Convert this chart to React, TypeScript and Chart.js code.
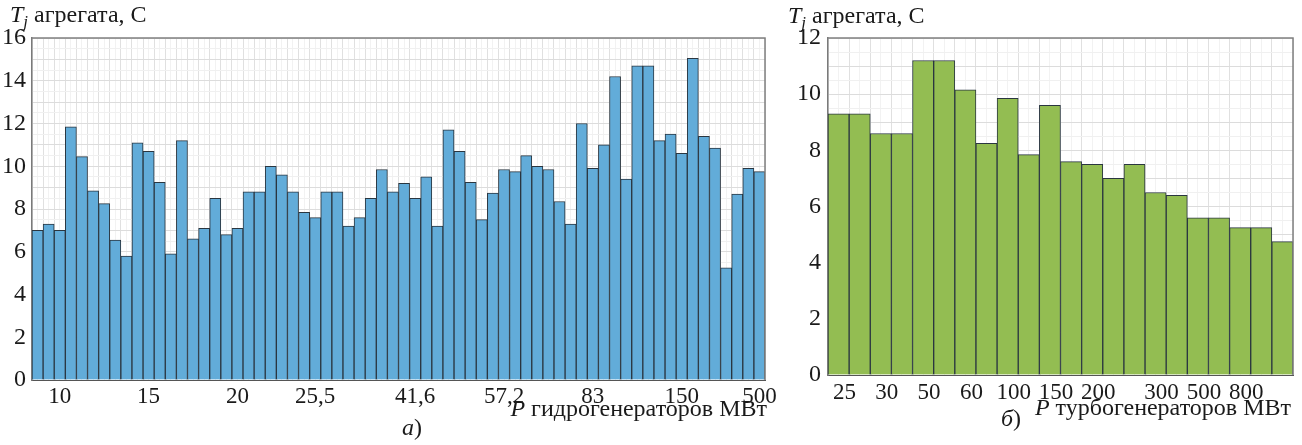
import React, { useEffect, useRef } from 'react';
import { Chart, registerables } from 'chart.js';

Chart.register(...registerables);

const FONT = '"Liberation Serif", "Times New Roman", serif';

// a) hydro-generators
const hydroCategories = [
  '', '', '10', '', '', '', '', '', '', '', '15',
  '', '', '', '', '', '', '', '20', '', '', '',
  '', '', '', '25,5', '', '', '', '', '', '', '',
  '', '41,6', '', '', '', '', '', '', '', '57,2', '',
  '', '', '', '', '', '', '83', '', '', '', '',
  '', '', '', '150', '', '', '', '', '', '', '500',
];
const hydroValues = [
  7.0, 7.3, 7.0, 11.85, 10.45, 8.85, 8.25, 6.55, 5.8, 11.1, 10.7,
  9.25, 5.9, 11.2, 6.6, 7.1, 8.5, 6.8, 7.1, 8.8, 8.8, 10.0,
  9.6, 8.8, 7.85, 7.6, 8.8, 8.8, 7.2, 7.6, 8.5, 9.85, 8.8,
  9.2, 8.5, 9.5, 7.2, 11.7, 10.7, 9.25, 7.5, 8.75, 9.85, 9.75,
  10.5, 10.0, 9.85, 8.35, 7.3, 12.0, 9.9, 11.0, 14.2, 9.4, 14.7,
  14.7, 11.2, 11.5, 10.6, 15.05, 11.4, 10.85, 5.25, 8.7, 9.9, 9.75,
];
const hydroYMax = 16;

// б) turbo-generators
const turboCategories = [
  '25', '', '30', '', '50', '', '60', '', '100', '', '150',
  '', '200', '', '', '300', '', '500', '', '800', '', '',
];
const turboValues = [
  9.3, 9.3, 8.6, 8.6, 11.2, 11.2, 10.15, 8.25, 9.85, 7.85, 9.6,
  7.6, 7.5, 7.0, 7.5, 6.5, 6.4, 5.6, 5.6, 5.25, 5.25, 4.75,
];
const turboYMax = 12;

const framePlugin = {
  id: 'frame',
  afterDatasetsDraw(chart: any) {
    const { ctx, chartArea: a } = chart;
    ctx.save();
    ctx.strokeStyle = '#808080';
    ctx.lineWidth = 1.5;
    ctx.beginPath();
    ctx.moveTo(a.left, a.top);
    ctx.lineTo(a.right, a.top);
    ctx.lineTo(a.right, a.bottom);
    ctx.stroke();
    ctx.restore();
  },
};

function buildConfig(opts: {
  labels: string[];
  values: number[];
  yMax: number;
  fill: string;
  padding: { left: number; right: number; top: number; bottom: number };
  yWidth: number;
  tickPadX: number;
  labelOffset: number;
  yPad: number;
}): any {
  const xFont = { family: FONT, size: 23, lineHeight: 1.2 };
  const yFont = { family: FONT, size: 24, lineHeight: 1.2 };
  return {
    type: 'bar',
    data: {
      labels: opts.labels,
      datasets: [
        {
          data: opts.values,
          backgroundColor: opts.fill,
          borderColor: '#2a3640',
          borderWidth: 1,
          categoryPercentage: 1,
          barPercentage: 1,
        },
      ],
    },
    options: {
      responsive: false,
      animation: false,
      events: [],
      layout: { padding: opts.padding },
      plugins: { legend: { display: false }, tooltip: { enabled: false }, title: { display: false } },
      scales: {
        x: {
          type: 'category',
          offset: true,
          grid: { offset: true, color: '#e0e0e0', drawTicks: false, lineWidth: 1 },
          border: { display: true, color: '#555555', width: 1 },
          ticks: {
            autoSkip: false,
            maxRotation: 0,
            minRotation: 0,
            padding: opts.tickPadX,
            labelOffset: opts.labelOffset,
            color: '#1a1a1a',
            font: xFont,
          },
          afterFit: (s: any) => {
            s.height = 32;
          },
        },
        x2: {
          type: 'category',
          position: 'bottom',
          offset: true,
          display: true,
          grid: { offset: false, color: '#f2f2f2', drawTicks: false, lineWidth: 1 },
          border: { display: false },
          ticks: { display: false },
          afterFit: (s: any) => {
            s.height = 0;
          },
        },
        y: {
          min: 0,
          max: opts.yMax,
          ticks: {
            stepSize: 0.5,
            autoSkip: false,
            padding: opts.yPad,
            color: '#1a1a1a',
            font: yFont,
            callback: (v: any) => (Number(v) % 2 === 0 ? String(v) : ''),
          },
          grid: {
            drawTicks: false,
            lineWidth: 1,
            color: (c: any) => (c.tick && Number(c.tick.value) % 1 === 0 ? '#dcdcdc' : '#f0f0f0'),
          },
          border: { display: true, color: '#7a7a7a', width: 1.5 },
          afterFit: (s: any) => {
            s.width = opts.yWidth;
          },
        },
      },
    },
    plugins: [framePlugin],
  };
}

function BarCanvas(props: { cfg: any; width: number; height: number; left: number }) {
  const ref = useRef<HTMLCanvasElement | null>(null);
  useEffect(() => {
    if (!ref.current) return;
    const chart = new Chart(ref.current, props.cfg);
    return () => chart.destroy();
  }, []);
  return (
    <canvas
      ref={ref}
      width={props.width}
      height={props.height}
      style={{ position: 'absolute', left: props.left, top: 0, width: props.width, height: props.height }}
    />
  );
}

const textBase: React.CSSProperties = {
  position: 'absolute',
  fontFamily: FONT,
  fontSize: 24,
  lineHeight: '24px',
  color: '#1a1a1a',
  whiteSpace: 'nowrap',
  margin: 0,
};

function YTitle(props: { left: number; top: number }) {
  return (
    <div style={{ ...textBase, left: props.left, top: props.top }}>
      <span style={{ fontStyle: 'italic' }}>T</span>
      <span style={{ fontStyle: 'italic', fontSize: 17, position: 'relative', top: 5 }}>j</span>
      <span> агрегата, С</span>
    </div>
  );
}

export default function App() {
  const hydroCfg = buildConfig({
    labels: hydroCategories,
    values: hydroValues,
    yMax: hydroYMax,
    fill: '#62acd9',
    padding: { left: 0, right: 15, top: 38, bottom: 33 },
    yWidth: 32,
    tickPadX: 3,
    labelOffset: 0,
    yPad: 6,
  });
  const turboCfg = buildConfig({
    labels: turboCategories,
    values: turboValues,
    yMax: turboYMax,
    fill: '#93bd52',
    padding: { left: 8, right: 9, top: 38, bottom: 38 },
    yWidth: 40,
    tickPadX: 4,
    labelOffset: 6,
    yPad: 7,
  });
  return (
    <div
      style={{
        position: 'absolute',
        left: 0,
        top: 0,
        width: 1302,
        height: 445,
        background: '#ffffff',
        overflow: 'hidden',
      }}
    >
      <BarCanvas cfg={hydroCfg} width={780} height={445} left={0} />
      <BarCanvas cfg={turboCfg} width={522} height={445} left={780} />
      <YTitle left={10} top={2} />
      <YTitle left={788} top={3} />
      <div style={{ ...textBase, right: 1302 - 767, top: 396 }}>
        <span style={{ fontStyle: 'italic' }}>P</span> гидрогенераторов МВт
      </div>
      <div style={{ ...textBase, left: 402, top: 415 }}>
        <span style={{ fontStyle: 'italic' }}>а</span>)
      </div>
      <div style={{ ...textBase, right: 1302 - 1291, top: 395 }}>
        <span style={{ fontStyle: 'italic' }}>P</span> турбогенераторов МВт
      </div>
      <div style={{ ...textBase, left: 1001, top: 406 }}>
        <span style={{ fontStyle: 'italic' }}>б</span>)
      </div>
    </div>
  );
}
